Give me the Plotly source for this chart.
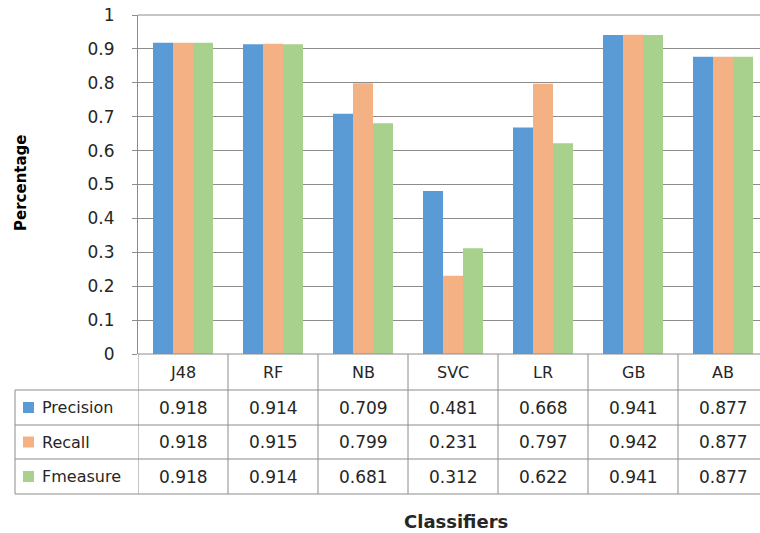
import plotly.graph_objects as go

# Classifier results
classifiers = ["J48", "RF", "NB", "SVC", "LR", "GB", "AB"]
metrics = ["Precision", "Recall", "Fmeasure"]
precision = [0.918, 0.914, 0.709, 0.481, 0.668, 0.941, 0.877]
recall = [0.918, 0.915, 0.799, 0.231, 0.797, 0.942, 0.877]
fmeasure = [0.918, 0.914, 0.681, 0.312, 0.622, 0.941, 0.877]
series_values = [precision, recall, fmeasure]
colors = ["#5B9BD5", "#F4B183", "#A9D18E"]
y_ticks = [0, 0.1, 0.2, 0.3, 0.4, 0.5, 0.6, 0.7, 0.8, 0.9, 1]
y_tick_text = ["0", "0.1", "0.2", "0.3", "0.4", "0.5", "0.6", "0.7", "0.8", "0.9", "1"]

W, H = 760, 533
FONT = "DejaVu Sans"
TEXT = "#262626"
LINE = "#8C8C8C"
FS = 16


def px(x):
    return x / W


def py(y):
    return 1 - y / H


# plot area in pixels
left, top, bottom = 138, 15, 354
col_w = 90
x_max = -0.5 + (W - left) / col_w

fig = go.Figure()
for name, vals, c in zip(metrics, series_values, colors):
    fig.add_trace(go.Bar(x=classifiers, y=vals, name=name, marker=dict(color=c, line=dict(width=0)),
                         showlegend=False))

fig.update_layout(
    width=W, height=H,
    margin=dict(l=0, r=0, t=0, b=0, pad=0),
    paper_bgcolor="white", plot_bgcolor="white",
    barmode="group", bargap=1 / 3, bargroupgap=0,
    font=dict(family=FONT, size=FS, color=TEXT),
    xaxis=dict(domain=[px(left), 1], range=[-0.5, x_max], showticklabels=False,
               showgrid=False, zeroline=False, showline=False, ticks="", automargin=False),
    yaxis=dict(domain=[py(bottom), py(top)], range=[0, 1], tickmode="array",
               tickvals=y_ticks, ticktext=y_tick_text, showgrid=True, gridcolor=LINE,
               gridwidth=1, zeroline=False, showline=True, linecolor=LINE, linewidth=1,
               ticks="outside", ticklen=5, tickcolor=LINE, automargin=False,
               ticklabelstandoff=14,
               tickfont=dict(family=FONT, size=FS + 1, color=TEXT)),
)

shapes = []
annotations = []


def label(x, y, text, xref="paper", xanchor="center", **kw):
    annotations.append(dict(x=x, y=y, xref=xref, yref="paper", text=text, showarrow=False,
                            xanchor=xanchor, yanchor="middle", **kw))


# top border of plot area
shapes.append(dict(type="line", xref="paper", yref="paper", x0=px(left), x1=1,
                   y0=py(top), y1=py(top), line=dict(color=LINE, width=1)))
# category axis line
shapes.append(dict(type="line", xref="paper", yref="paper", x0=px(left), x1=1,
                   y0=py(bottom), y1=py(bottom), line=dict(color=LINE, width=1)))

# data table rows
row_lines = [390, 425, 459, 494]
for yl in row_lines:
    shapes.append(dict(type="line", xref="paper", yref="paper", x0=px(15), x1=1,
                       y0=py(yl), y1=py(yl), line=dict(color=LINE, width=1)))
# vertical separators
shapes.append(dict(type="line", xref="paper", yref="paper", x0=px(15), x1=px(15),
                   y0=py(390), y1=py(494), line=dict(color=LINE, width=1)))
for i in range(len(classifiers)):
    shapes.append(dict(type="line", xref="x", yref="paper", x0=i - 0.5, x1=i - 0.5,
                       y0=py(bottom), y1=py(494), line=dict(color=LINE, width=1)))

# category labels
for i, c in enumerate(classifiers):
    label(i, py((bottom + 390) / 2), c, xref="x", font=dict(family=FONT, size=FS, color=TEXT))

# table values and legend keys
for r, (name, vals, c) in enumerate(zip(metrics, series_values, colors)):
    yc = (row_lines[r] + row_lines[r + 1]) / 2
    shapes.append(dict(type="rect", xref="paper", yref="paper", x0=px(23), x1=px(34),
                       y0=py(yc - 5.5), y1=py(yc + 5.5), fillcolor=c, line=dict(width=0)))
    label(px(40), py(yc), name, xanchor="left", font=dict(family=FONT, size=FS, color=TEXT))
    for i, v in enumerate(vals):
        label(i, py(yc), f"{v:.3f}", xref="x", font=dict(family=FONT, size=FS + 1, color=TEXT))

# axis titles
label(px(21), py(183), "<b>Percentage</b>", textangle=-90,
      font=dict(family=FONT, size=15, color="black"))
label(px(456), py(521), "<b>Classifiers</b>", font=dict(family=FONT, size=18, color=TEXT))

fig.update_layout(shapes=shapes, annotations=annotations)
fig.write_html("out.html")
